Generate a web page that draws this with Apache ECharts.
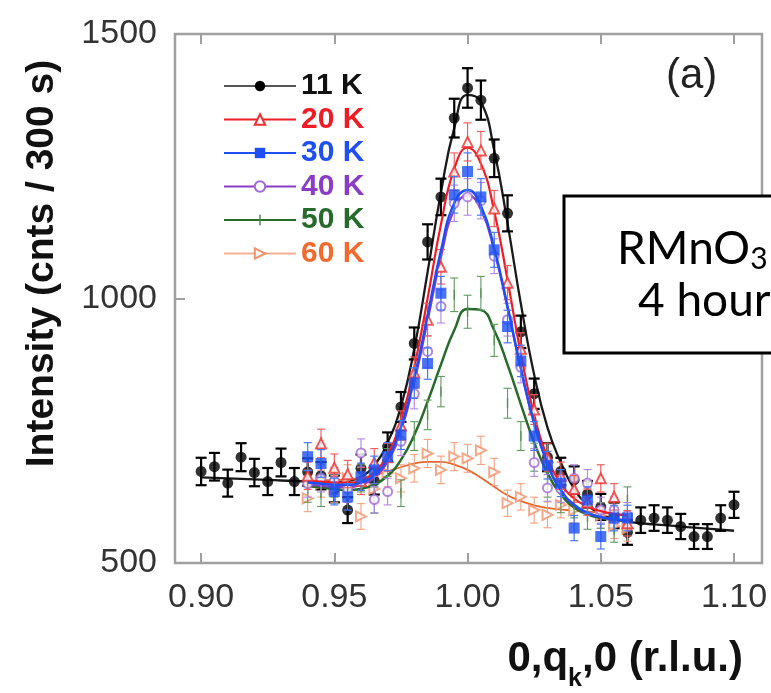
<!DOCTYPE html>
<html>
<head>
<meta charset="utf-8">
<script src="https://cdn.jsdelivr.net/npm/echarts@6/dist/echarts.min.js"></script>
<style>
  html, body { margin: 0; padding: 0; background: #fff; }
  #chart { width: 771px; height: 693px; }
</style>
</head>
<body>
<div id="chart"></div>
<script>
// Scan positions along (0, q_k, 0), r.l.u.
const qWide = [0.900, 0.905, 0.910, 0.915, 0.920, 0.925, 0.930, 0.935,
               0.940, 0.945, 0.950, 0.955, 0.960, 0.965, 0.970, 0.975,
               0.980, 0.985, 0.990, 0.995, 1.000, 1.005, 1.010, 1.015,
               1.020, 1.025, 1.030, 1.035, 1.040, 1.045, 1.050, 1.055,
               1.060, 1.065, 1.070, 1.075, 1.080, 1.085, 1.090, 1.095, 1.100];
const qNarrow = [0.940, 0.945, 0.950, 0.955, 0.960, 0.965, 0.970, 0.975,
                 0.980, 0.985, 0.990, 0.995, 1.000, 1.005, 1.010, 1.015,
                 1.020, 1.025, 1.030, 1.035, 1.040, 1.045, 1.050, 1.055, 1.060];

// Measured counts per 300 s
const counts11K = [673, 682, 651, 700, 671, 654, 690, 654,
                   672, 665, 640, 600, 679, 655, 720, 795,
                   915, 1107, 1192, 1341, 1398, 1375, 1265, 1161,
                   937, 820, 700, 673, 657, 630, 606, 590,
                   558, 581, 585, 581, 569, 550, 550, 585, 610];
const counts20K = [665, 726, 680, 668, 655, 690, 700, 760,
                   860, 960, 1060, 1240, 1296, 1280, 1170, 1030,
                   905, 790, 700, 665, 640, 615, 660, 625, 575];
const counts30K = [701, 688, 635, 625, 663, 676, 701, 742,
                   840, 877, 1010, 1196, 1240, 1192, 1092, 947,
                   882, 740, 685, 651, 566, 619, 550, 585, 585];
const counts40K = [650, 660, 655, 640, 708, 620, 635, 730,
                   820, 900, 985, 1180, 1192, 1185, 1080, 960,
                   870, 690, 642, 640, 660, 651, 600, 600, 590];
const counts50K = [640, 632, 650, 640, 660, 619, 690, 632,
                   740, 780, 824, 1007, 975, 1010, 921, 802,
                   740, 700, 650, 620, 610, 588, 590, 563, 619];
const counts60K = [622, 650, 640, 660, 588, 640, 670, 660,
                   679, 707, 676, 701, 698, 713, 672, 613,
                   625, 600, 591, 610, 600, 615, 590, 570, 565];

// Fitted peak profiles on the same grids
const fit11K = [662, 661, 660, 659, 658, 657, 656, 655,
                654, 653, 653, 655, 663, 685, 728, 796,
                905, 1050, 1200, 1322, 1385, 1372, 1280, 1142,
                990, 856, 756, 690, 640, 610, 592, 583,
                578, 575, 573, 571, 569, 567, 565, 563, 561];
const fit20K = [655, 654, 652, 652, 656, 672, 705, 770,
                870, 1000, 1140, 1245, 1285, 1255, 1165, 1035,
                895, 780, 700, 650, 622, 607, 598, 593, 590];
const fit30K = [652, 650, 648, 648, 652, 667, 698, 757,
                850, 968, 1090, 1180, 1205, 1175, 1095, 985,
                868, 765, 688, 638, 610, 595, 587, 583, 580];
const fit40K = [648, 646, 644, 644, 648, 662, 692, 750,
                842, 958, 1078, 1168, 1195, 1168, 1090, 982,
                866, 763, 687, 637, 609, 594, 586, 582, 579];
const fit50K = [645, 643, 640, 638, 640, 648, 665, 695,
                742, 805, 875, 940, 980, 978, 940, 875,
                800, 728, 670, 630, 605, 592, 585, 582, 580];
const fit60K = [655, 656, 657, 658, 661, 666, 673, 681,
                688, 691, 691, 686, 676, 661, 644, 628,
                617, 609, 604, 601, 599, 597, 595, 593, 591];

const temperatures = ['11 K', '20 K', '30 K', '40 K', '50 K', '60 K'];
const xTicks = [0.90, 0.95, 1.00, 1.05, 1.10];
const yTicks = [500, 1000, 1500];

// Thin vertical tick marker; the empty corner sub-paths keep the box square
const TICK_MARK = 'path://M0,0L0,0Z M20,20L20,20Z M8.5,0L11.5,0L11.5,20L8.5,20Z';

// Per-temperature styling
const styles = {
  '11 K': { q: qWide, y: counts11K, fit: fit11K, text: '#111111', line: '#1a1a1a', mark: '#000000', err: '#000000',
            symbol: 'circle', size: 11, rotate: 0, lw: 2.3, ew: 2.2, cap: 11, rank: 0, legendLine: '#555555' },
  '20 K': { q: qNarrow, y: counts20K, fit: fit20K, text: '#ee1c24', line: '#ee1c24', mark: '#ee3030', err: '#f06060',
            symbol: 'emptyTriangle', size: 10, rotate: 0, lw: 2.2, ew: 1.2, cap: 8, rank: 4, legendLine: '#ee1c24' },
  '30 K': { q: qNarrow, y: counts30K, fit: fit30K, text: '#1d4ff2', line: '#1d4ff2', mark: '#1d4ff2', err: '#4a78f5',
            symbol: 'rect', size: 11, rotate: 0, lw: 2.5, ew: 1.2, cap: 8, rank: 5, legendLine: '#1d4ff2' },
  '40 K': { q: qNarrow, y: counts40K, fit: fit40K, text: '#8a3cc4', line: '#8a3cc4', mark: '#a06ad8', err: '#b088e0',
            symbol: 'emptyCircle', size: 9, rotate: 0, lw: 2.2, ew: 1.1, cap: 8, rank: 3, legendLine: '#8a3cc4' },
  '50 K': { q: qNarrow, y: counts50K, fit: fit50K, text: '#276b2a', line: '#276b2a', mark: '#4f8f4f', err: '#5f9a5f',
            symbol: TICK_MARK, size: 10, rotate: 0, lw: 2.5, ew: 1.1, cap: 8, rank: 2, legendLine: '#276b2a' },
  '60 K': { q: qNarrow, y: counts60K, fit: fit60K, text: '#f26a2e', line: '#e8662c', mark: '#f4926a', err: '#f5a07e',
            symbol: 'emptyTriangle', size: 10, rotate: -90, lw: 1.8, ew: 1.1, cap: 8, rank: 1, legendLine: '#f8b090' }
};

const zOf = (rank, layer) => 2 + rank * 3 + layer;

const lineSeries = temperatures.map(t => {
  const s = styles[t];
  return {
    name: t, type: 'line', smooth: 0.5,
    data: s.q.map((q, i) => [q, s.fit[i]]),
    symbol: s.symbol, symbolRotate: s.rotate, showSymbol: false,
    itemStyle: { color: s.line },
    lineStyle: { color: s.line, width: s.lw },
    z: zOf(s.rank, 0), silent: true, animation: false
  };
});

// Counting-statistics error bars (sqrt of counts)
const errorSeries = temperatures.map(t => {
  const s = styles[t];
  return {
    name: t, type: 'custom',
    data: s.q.map((q, i) => [q, s.y[i] - Math.sqrt(s.y[i]), s.y[i] + Math.sqrt(s.y[i])]),
    encode: { x: 0, y: [1, 2] },
    renderItem: (params, api) => {
      const lo = api.coord([api.value(0), api.value(1)]);
      const hi = api.coord([api.value(0), api.value(2)]);
      const h = s.cap / 2;
      const st = { stroke: s.err, lineWidth: s.ew, fill: null };
      return {
        type: 'group',
        children: [
          { type: 'line', shape: { x1: lo[0], y1: lo[1], x2: hi[0], y2: hi[1] }, style: st },
          { type: 'line', shape: { x1: lo[0] - h, y1: lo[1], x2: lo[0] + h, y2: lo[1] }, style: st },
          { type: 'line', shape: { x1: hi[0] - h, y1: hi[1], x2: hi[0] + h, y2: hi[1] }, style: st }
        ]
      };
    },
    z: zOf(s.rank, 1), silent: true, animation: false
  };
});

const pointSeries = temperatures.map(t => {
  const s = styles[t];
  return {
    name: t, type: 'scatter',
    data: s.q.map((q, i) => [q, s.y[i]]),
    symbol: s.symbol, symbolSize: s.size, symbolRotate: s.rotate,
    itemStyle: { color: s.mark, borderColor: s.mark, borderWidth: s.symbol.indexOf('empty') === 0 ? 1.3 : 0 },
    z: zOf(s.rank, 2), silent: true, animation: false
  };
});

const FONT = 'Liberation Sans, Arial, sans-serif';
const tickColor = '#a0a0a0';

const chart = echarts.init(document.getElementById('chart'), null, { renderer: 'canvas' });
chart.setOption({
  animation: false,
  backgroundColor: '#ffffff',
  grid: { left: 175, right: 9, top: 34, bottom: 130, show: true, borderColor: tickColor, borderWidth: 2.5, backgroundColor: 'transparent' },
  legend: {
    orient: 'vertical', left: 218, top: 66,
    itemWidth: 72, itemHeight: 13, itemGap: 3.5,
    selectedMode: false,
    textStyle: { fontFamily: FONT, fontWeight: 'bold', fontSize: 30 },
    data: temperatures.map(t => ({
      name: t,
      textStyle: { color: styles[t].text, fontFamily: FONT, fontWeight: 'bold', fontSize: 30 },
      itemStyle: { color: styles[t].mark },
      lineStyle: { color: styles[t].legendLine, width: 2 }
    }))
  },
  xAxis: [{
    type: 'value', min: 0.8902, max: 1.1105, position: 'bottom',
    axisLine: { show: false }, splitLine: { show: false },
    axisTick: { show: true, inside: true, length: 10, customValues: xTicks, lineStyle: { color: tickColor, width: 2 } },
    axisLabel: { customValues: xTicks, formatter: v => v.toFixed(2), fontFamily: FONT, fontSize: 34, color: '#333', margin: 18 }
  }, {
    type: 'value', min: 0.8902, max: 1.1105, position: 'top',
    axisLine: { show: false }, splitLine: { show: false },
    axisTick: { show: true, inside: true, length: 10, customValues: xTicks, lineStyle: { color: tickColor, width: 2 } },
    axisLabel: { show: false }
  }],
  yAxis: [{
    type: 'value', min: 500, max: 1500, interval: 500, position: 'left',
    axisLine: { show: false }, splitLine: { show: false },
    axisTick: { show: true, inside: true, length: 10, lineStyle: { color: tickColor, width: 2 } },
    axisLabel: { fontFamily: FONT, fontSize: 34, color: '#333', margin: 18, formatter: v => String(v) },
    name: 'Intensity (cnts / 300 s)', nameLocation: 'middle', nameGap: 113,
    nameTextStyle: { fontFamily: FONT, fontWeight: 'bold', fontSize: 39, color: '#111', padding: [0, 0, 0, 70] }
  }, {
    type: 'value', min: 500, max: 1500, interval: 500, position: 'right',
    axisLine: { show: false }, splitLine: { show: false },
    axisTick: { show: true, inside: true, length: 10, lineStyle: { color: tickColor, width: 2 } },
    axisLabel: { show: false }
  }],
  graphic: [
    { type: 'text', left: 666, top: 55, z: 50,
      style: { text: '(a)', font: '42px ' + FONT, fill: '#222' } },
    { type: 'text', right: 28, top: 638, z: 50,
      style: {
        text: '{b|0,q}{s|k}{b|,0 (r.l.u.)}',
        rich: {
          b: { font: 'bold 42px ' + FONT, fill: '#111', lineHeight: 50, verticalAlign: 'middle' },
          s: { font: 'bold 25px ' + FONT, fill: '#111', lineHeight: 50, verticalAlign: 'bottom', padding: [0, 0, -8, 0] }
        }
      } },
    { type: 'rect', z: 60, shape: { x: 564, y: 196, width: 300, height: 157 },
      style: { fill: '#ffffff', stroke: '#000000', lineWidth: 3 } },
    { type: 'text', z: 61, left: 617, top: 226,
      style: {
        text: '{m|RMnO}{s|3}',
        rich: {
          m: { font: '46px Lato, sans-serif', fill: '#000', lineHeight: 50, verticalAlign: 'middle' },
          s: { font: '30px Lato, sans-serif', fill: '#000', lineHeight: 50, verticalAlign: 'bottom' }
        }
      } },
    { type: 'text', z: 61, left: 638, top: 278,
      style: { text: '4 hours', font: '46px Lato, sans-serif', fill: '#000' } }
  ],
  series: [...lineSeries, ...errorSeries, ...pointSeries]
});
</script>
</body>
</html>
